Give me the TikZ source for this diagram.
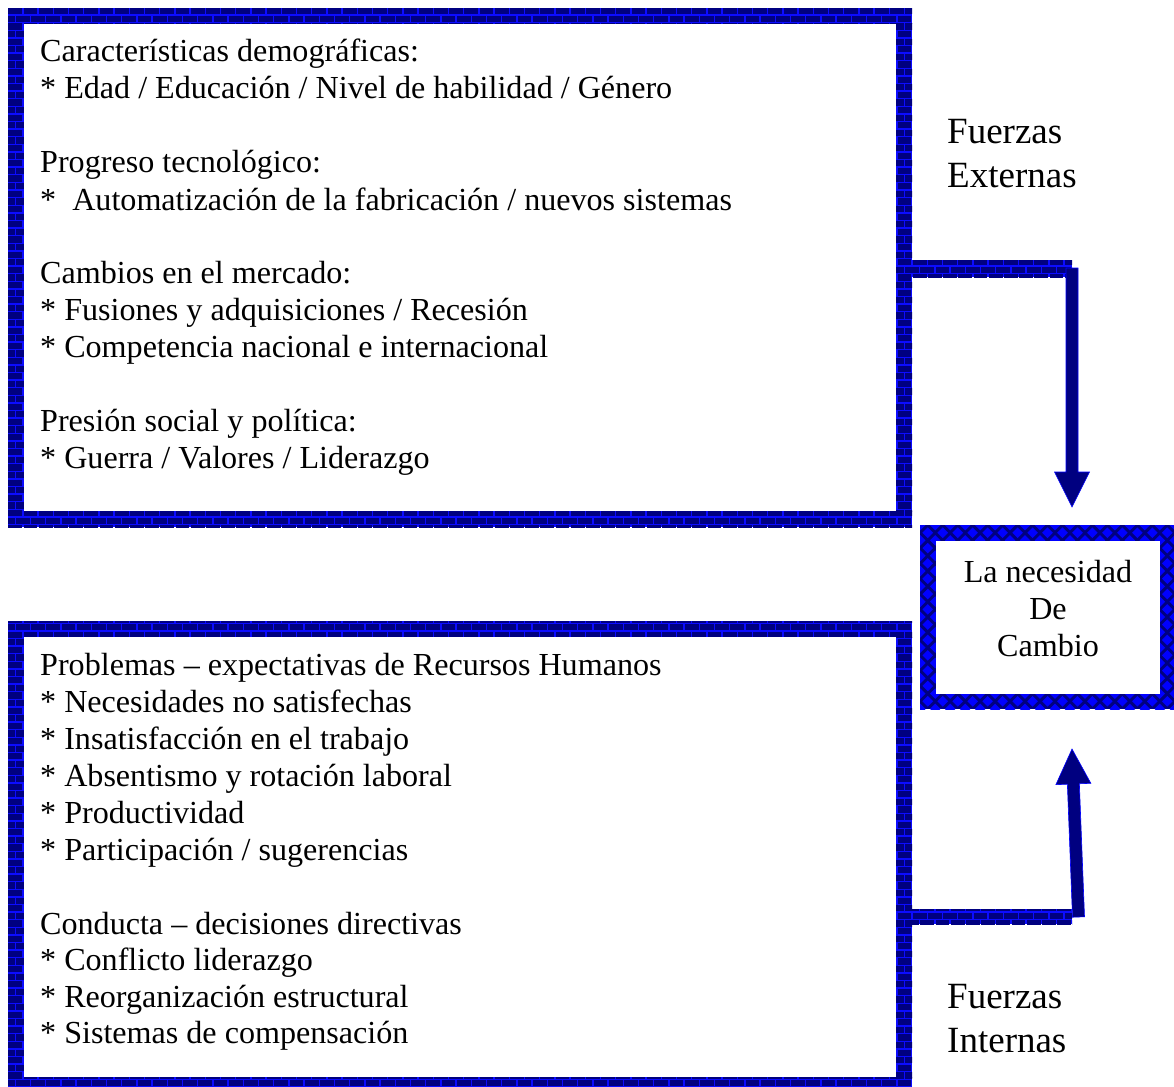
\documentclass[tikz,border=0pt]{standalone}
\usepackage{fontspec}
\setmainfont{Liberation Serif}
\usetikzlibrary{calc}

\definecolor{navy}{RGB}{0,0,128}
\definecolor{mortar}{RGB}{12,12,255}
\definecolor{diam}{RGB}{0,0,255}

\newcommand\bodysize{\fontsize{32.1}{36.8}\selectfont}
\newcommand\bigsize{\fontsize{37}{43}\selectfont}

% brick-patterned strip between (#1,#2) and (#3,#4), bricks on a global grid
\newcommand\brickstrip[4]{%
  \begin{scope}
    \clip (#1,#2) rectangle (#3,#4);
    \fill[mortar] (#1,#2) rectangle (#3,#4);
    \pgfmathtruncatemacro\rowA{floor((#2)/7.6)}
    \pgfmathtruncatemacro\rowB{ceil((#4)/7.6)}
    \pgfmathtruncatemacro\colA{floor((#1)/15.2)-1}
    \pgfmathtruncatemacro\colB{ceil((#3)/15.2)}
    \foreach \r in {\rowA,...,\rowB}{%
      \pgfmathsetmacro\brickshift{mod(\r,2)*7.6}
      \foreach \c in {\colA,...,\colB}{%
        \fill[navy] ({\c*15.2+\brickshift+0.7},{\r*7.6+0.7}) rectangle ++(13.8,6.2);
      }}
  \end{scope}}

% brick frame: outer corners (#1,#2)-(#3,#4), thickness #5
\newcommand\brickframe[5]{%
  \pgfmathsetmacro\fyA{#2+#5}\pgfmathsetmacro\fyB{#4-#5}%
  \pgfmathsetmacro\fxA{#1+#5}\pgfmathsetmacro\fxB{#3-#5}%
  \brickstrip{#1}{#2}{#3}{\fyA}%
  \brickstrip{#1}{\fyB}{#3}{#4}%
  \brickstrip{#1}{\fyA}{\fxA}{\fyB}%
  \brickstrip{\fxB}{\fyA}{#3}{\fyB}}

% block arrow from coordinate #1 to tip #2
\newcommand\blockarrow[2]{%
  \path ($(#2)!35pt!(#1)$) coordinate (headbase);
  \fill[navy, draw=diam, line width=0.6pt]
    ($(#1)!6pt!90:(#2)$) -- ($(headbase)!6pt!90:(#2)$) --
    ($(headbase)!17.5pt!90:(#2)$) -- (#2) --
    ($(headbase)!17.5pt!-90:(#2)$) -- ($(headbase)!6pt!-90:(#2)$) --
    ($(#1)!6pt!-90:(#2)$) -- cycle;}

\tikzset{
  txt/.style={font=\bodysize, anchor=base west, inner sep=0pt},
  big/.style={font=\bigsize, anchor=base west, inner sep=0pt},
  ctr/.style={font=\bodysize, anchor=base, inner sep=0pt},
  panel/.style={fill=white, inner sep=0pt, anchor=north west},
}

\begin{document}
\begin{tikzpicture}[x=1pt, y=-1pt]
  \clip (0,0) rectangle (1174,1086);
  \fill[white] (0,0) rectangle (1174,1086);

  % connector bars leaving the two panels
  \brickstrip{896}{260}{1072}{277}
  \brickstrip{896}{909}{1072}{924}

  % external forces panel
  \brickframe{8}{8}{912}{527}{16}
  \node[panel, minimum width=872pt, minimum height=487pt] (extbox) at (24,24) {};

  % internal forces panel
  \brickframe{8}{621}{912}{1093}{16}
  \node[panel, minimum width=872pt, minimum height=440pt] (intbox) at (24,637) {};

  % "need for change" panel with diamond frame
  \begin{scope}
    \fill[navy] (920,525) rectangle (1175,709);
    \clip (920,525) rectangle (1175,709);
    \foreach \i in {-1,...,33}{%
      \foreach \j in {-1,...,23}{%
        \pgfmathtruncatemacro\dpar{mod(\i+\j+100,2)}
        \ifnum\dpar=0
          \fill[diam] ({927.75+\i*7.485-5.3},{532.75+\j*7.66}) -- ++(5.3,-5.3) -- ++(5.3,5.3) -- ++(-5.3,5.3) -- cycle;
        \fi
      }}
  \end{scope}
  \node[panel, minimum width=224pt, minimum height=153pt] (needbox) at (935.5,540.5) {};

  % arrows
  \coordinate (extstart) at (1072,268);
  \coordinate (exttip) at (1072,507);
  \coordinate (intstart) at (1078.5,917);
  \coordinate (inttip) at (1072,749);
  \blockarrow{extstart}{exttip}
  \blockarrow{intstart}{inttip}

  % text of the external panel
  \node[txt] (e1) at (40,62) {Características demográficas:};
  \node[txt] (e2) at (40,99) {* Edad / Educación / Nivel de habilidad / Género};
  \node[txt] (e3) at (40,173) {Progreso tecnológico:};
  \node[txt] (e4) at (40,210) {*~ Automatización de la fabricación / nuevos sistemas};
  \node[txt] (e5) at (40,283) {Cambios en el mercado:};
  \node[txt] (e6) at (40,320) {* Fusiones y adquisiciones / Recesión};
  \node[txt] (e7) at (40,357) {* Competencia nacional e internacional};
  \node[txt] (e8) at (40,431) {Presión social y política:};
  \node[txt] (e9) at (40,468) {* Guerra / Valores / Liderazgo};

  % text of the internal panel
  \node[txt] (i1) at (40,675) {Problemas – expectativas de Recursos Humanos};
  \node[txt] (i2) at (40,712) {* Necesidades no satisfechas};
  \node[txt] (i3) at (40,749) {* Insatisfacción en el trabajo};
  \node[txt] (i4) at (40,786) {* Absentismo y rotación laboral};
  \node[txt] (i5) at (40,823) {* Productividad};
  \node[txt] (i6) at (40,860) {* Participación / sugerencias};
  \node[txt] (i7) at (40,934) {Conducta – decisiones directivas};
  \node[txt] (i8) at (40,970) {* Conflicto liderazgo};
  \node[txt] (i9) at (40,1007) {* Reorganización estructural};
  \node[txt] (i10) at (40,1043) {* Sistemas de compensación};

  % side labels
  \node[big] (fe1) at (947,144) {Fuerzas};
  \node[big] (fe2) at (947,187) {Externas};
  \node[big] (fi1) at (947,1008) {Fuerzas};
  \node[big] (fi2) at (947,1052) {Internas};

  % text of the need panel
  \node[ctr] (n1) at (1048,582) {La necesidad};
  \node[ctr] (n2) at (1048,619) {De};
  \node[ctr] (n3) at (1048,656) {Cambio};
\end{tikzpicture}
\end{document}
